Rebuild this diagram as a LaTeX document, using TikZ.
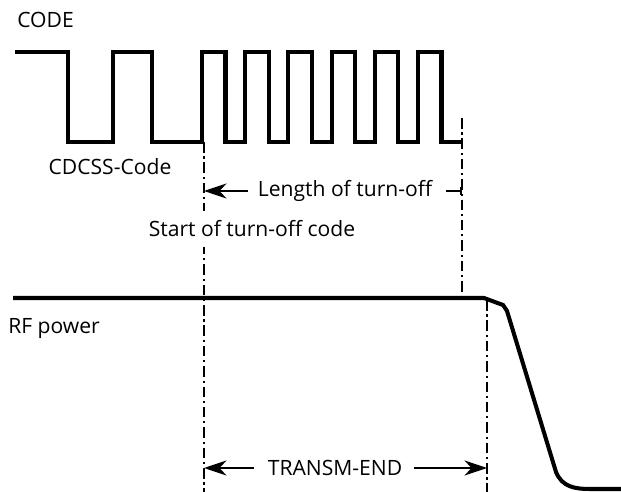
\documentclass[tikz,border=0pt]{standalone}
\usepackage{fontspec}
\setsansfont{Open Sans}
\usetikzlibrary{positioning,arrows.meta}

\begin{document}
\begin{tikzpicture}[x=0.02cm,y=-0.02cm,
  lbl/.style={font=\sffamily\fontsize{12}{14}\selectfont,inner sep=0pt},
  wave/.style={line width=2.3pt,line join=miter},
  markline/.style={line width=0.8pt,dash pattern=on 6pt off 2.2pt on 1.2pt off 2.2pt},
  dim/.style={line width=1.1pt,-{Stealth[length=4.5mm,width=3mm,inset=1.4mm]}}]
\useasboundingbox (0,0) rectangle (621,492);
% marker lines
\coordinate (startTop) at (204,142);
\coordinate (startBot) at (204,492);
\coordinate (offTop) at (462,118);
\coordinate (offBot) at (462,292);
\coordinate (endTop) at (487,300);
\coordinate (endBot) at (487,492);
\draw[markline] (startTop) -- (startBot);
\draw[markline] (offTop) -- (offBot);
\draw[markline] (endTop) -- (endBot);
% labels
\node[lbl,anchor=west] (code) at (17,20) {CODE};
\node[lbl] (cdcss) at (110,167) {CDCSS-Code};
\node[lbl] (length) at (345,191) {Length of turn-off};
\node[lbl,fill=white,inner ysep=0.2cm] (start) at (252,229) {Start of turn-off code};
\node[lbl,anchor=west] (rf) at (8,329) {RF power};
\node[lbl] (transm) at (335,468) {TRANSM-END};
% code signal
\draw[wave] (15,52) -| (68,142) -| (113,52) -| (152,142) -| (202,52)
  foreach \i in {0,...,4} {-| ({225.5+43.2*\i},142) -| ({245.2+43.2*\i},52)}
  -| (441.5,142) -- (offTop |- 0,142);
% rf power
\draw[wave] (13,298) -- (484,298) -- (503,305) -- (507,311) -- (556,472)
  .. controls (562,487) and (575,489) .. (590,489) -- (621,489);
% dimensions
\draw[dim] ([xshift=-0.2cm]length.west) -- (startTop |- length);
\draw[dim,-{Bar[width=5pt]}] ([xshift=0.28cm]length.east) -- (offTop |- length);
\draw[dim] ([xshift=-0.26cm]transm.west) -- (startTop |- transm);
\draw[dim] ([xshift=0.22cm]transm.east) -- (endTop |- transm);
\end{tikzpicture}
\end{document}
